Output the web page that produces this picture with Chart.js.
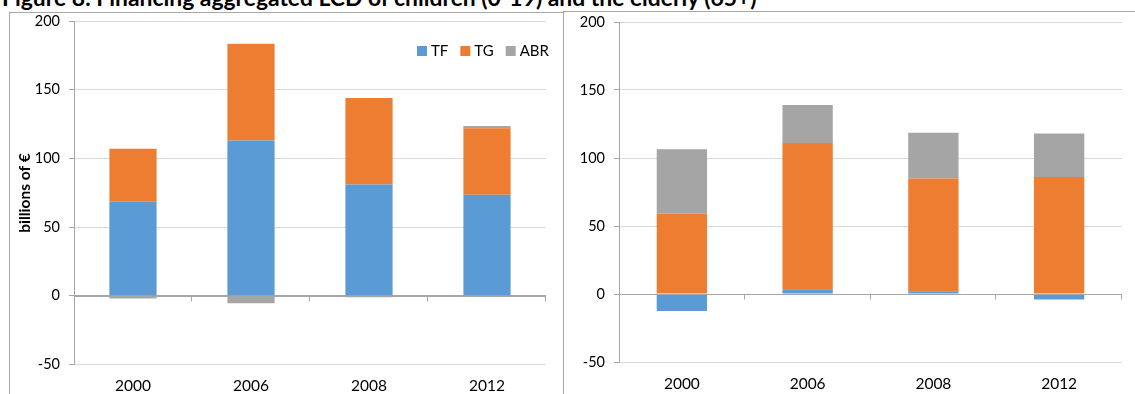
<!DOCTYPE html>
<html>
<head>
<meta charset="utf-8">
<script src="https://cdn.jsdelivr.net/npm/chart.js@4.4.1/dist/chart.umd.min.js"></script>
<style>
  html, body { margin:0; padding:0; background:#fff; width:1135px; height:394px; overflow:hidden; position:relative; }
  #title { position:absolute; left:2px; top:-9px; font-family:Lato, "Open Sans", sans-serif; font-weight:bold; font-size:19px; line-height:19px; color:#000; white-space:nowrap; }
  .panel { position:absolute; border:1px solid #a6a6a6; background:transparent; box-sizing:border-box; }
  canvas { position:absolute; top:0; }
</style>
</head>
<body>
<div id="title">Figure 8: Financing aggregated LCD of children (0-19) and the elderly (65+)</div>
<div class="panel" style="left:9px; top:12px; width:555px; height:400px;"></div>
<div class="panel" style="left:563px; top:11px; width:600px; height:400px;"></div>
<canvas id="c1" width="563" height="394" style="left:0px;"></canvas>
<canvas id="c2" width="570" height="394" style="left:565px;"></canvas>
<script>
// ---- data ----
const categories = ['2000', '2006', '2008', '2012'];
const seriesNames = ['TF', 'TG', 'ABR'];
const seriesColors = ['#5B9BD5', '#ED7D31', '#A5A5A5'];

const leftTF  = [68.5, 113, 81, 73.5];
const leftTG  = [38.5, 70.5, 63, 48.5];
const leftABR = [-2, -5.5, -1, 1.5];

const rightTF  = [-12.5, 3.5, 2, -4];
const rightTG  = [59, 107.5, 83, 86];
const rightABR = [47.5, 28, 33.5, 32];

const yTicksMin = -50, yTicksMax = 200, yStep = 50;
const yAxisTitle = 'billions of €';

// ---- title fit ----
(function(){
  const t = document.getElementById('title');
  const w = t.getBoundingClientRect().width;
  const target = 755;
  const fs = 19 * target / w;
  t.style.fontSize = fs.toFixed(2) + 'px';
  t.style.lineHeight = fs.toFixed(2) + 'px';
  t.style.top = (6.5 - 0.887 * fs).toFixed(2) + 'px';
})();

const FONT = 'Lato, "Open Sans", sans-serif';
const TEXT = '#000000';
const AXIS = '#a6a6a6';
const GRID = '#d9d9d9';

const catTicks = {
  id: 'catTicks',
  afterDatasetsDraw(chart) {
    const ctx = chart.ctx, xs = chart.scales.x, ys = chart.scales.y;
    const y0 = Math.round(ys.getPixelForValue(0)) + 0.5;
    const n = categories.length;
    const step = (xs.right - xs.left) / n;
    ctx.save();
    ctx.strokeStyle = AXIS; ctx.lineWidth = 1;
    ctx.beginPath(); ctx.moveTo(xs.left, y0); ctx.lineTo(xs.right, y0); ctx.stroke();
    for (let i = 1; i <= n; i++) {
      const x = Math.round(xs.left + i * step) - 0.5;
      ctx.beginPath(); ctx.moveTo(x, y0); ctx.lineTo(x, y0 + 5); ctx.stroke();
    }
    ctx.restore();
  }
};

const legendPlugin = {
  id: 'customLegend',
  afterDraw(chart, args, opts) {
    if (!opts.show) return;
    const ctx = chart.ctx;
    ctx.save();
    ctx.font = '15px ' + FONT;
    ctx.textBaseline = 'middle';
    let x = opts.x;
    const y = opts.y;
    chart.data.datasets.forEach(ds => {
      ctx.fillStyle = ds.backgroundColor;
      ctx.fillRect(x, y - 5, 10, 10);
      x += 14;
      ctx.fillStyle = TEXT;
      ctx.fillText(ds.label, x, y + 0.5);
      x += ctx.measureText(ds.label).width + 12;
    });
    ctx.restore();
  }
};

const yTitlePlugin = {
  id: 'yTitle',
  afterDraw(chart, args, opts) {
    if (!opts.show) return;
    const ctx = chart.ctx;
    ctx.save();
    ctx.font = 'bold 15.5px ' + FONT;
    ctx.fillStyle = '#000';
    ctx.textAlign = 'center';
    ctx.textBaseline = 'middle';
    ctx.translate(opts.x, opts.y);
    ctx.rotate(-Math.PI / 2);
    ctx.fillText(yAxisTitle, 0, 0);
    ctx.restore();
  }
};

function makeChart(id, tf, tg, abr, cfg) {
  return new Chart(document.getElementById(id), {
    type: 'bar',
    data: {
      labels: categories,
      datasets: [
        { label: seriesNames[0], data: tf,  backgroundColor: seriesColors[0] },
        { label: seriesNames[1], data: tg,  backgroundColor: seriesColors[1] },
        { label: seriesNames[2], data: abr, backgroundColor: seriesColors[2] }
      ]
    },
    options: {
      responsive: false,
      animation: false,
      events: [],
      layout: { padding: { left: 0, right: cfg.padRight, top: cfg.padTop, bottom: 0 } },
      datasets: { bar: { categoryPercentage: 1.0, barPercentage: 0.4, borderWidth: 0 } },
      plugins: {
        legend: { display: false },
        tooltip: { enabled: false },
        customLegend: { show: cfg.legend, x: 417, y: 51 },
        yTitle: { show: cfg.yTitle, x: 25, y: 193 }
      },
      scales: {
        x: {
          stacked: true,
          grid: { display: false, drawTicks: false },
          border: { display: false },
          ticks: { font: { family: FONT, size: 15.5 }, color: TEXT, padding: cfg.xPad, maxRotation: 0 },
          afterFit: s => { s.height = cfg.xHeight; }
        },
        y: {
          stacked: true,
          min: yTicksMin, max: yTicksMax,
          ticks: { stepSize: yStep, font: { family: FONT, size: 14.5 }, color: TEXT, padding: 9 },
          grid: {
            color: c => (c.tick && c.tick.value === 0) ? AXIS : GRID,
            tickColor: AXIS,
            tickLength: 5,
            lineWidth: 1
          },
          border: { display: true, color: AXIS },
          afterFit: s => { s.width = cfg.yWidth; }
        }
      }
    },
    plugins: [catTicks, legendPlugin, yTitlePlugin]
  });
}

makeChart('c1', leftTF, leftTG, leftABR,
  { padRight: 17, padTop: 21, xHeight: 29.5, xPad: 12, yWidth: 74, legend: true, yTitle: true });
makeChart('c2', rightTF, rightTG, rightABR,
  { padRight: 13, padTop: 22, xHeight: 32, xPad: 13, yWidth: 54, legend: false, yTitle: false });
</script>
</body>
</html>
